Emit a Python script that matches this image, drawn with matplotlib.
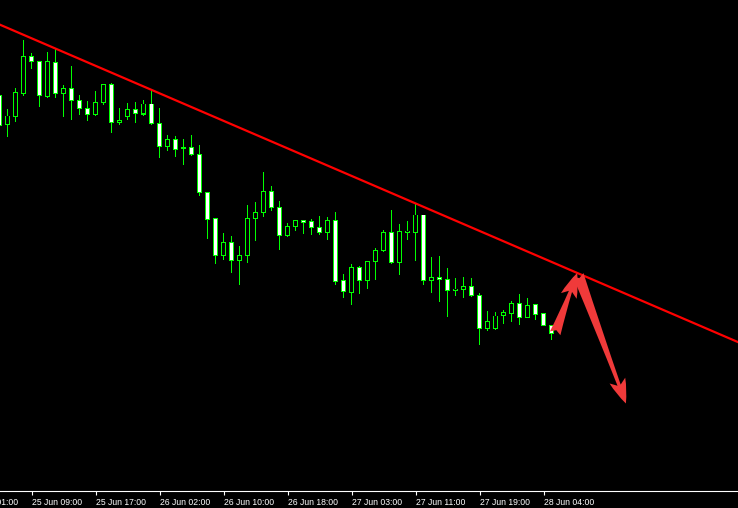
import matplotlib
matplotlib.use("Agg")
import matplotlib.pyplot as plt
from matplotlib.patches import Rectangle
from matplotlib.transforms import blended_transform_factory

# hourly OHLC, bar 0 is the partly hidden candle on the left edge
opens = [1.19050, 1.18753, 1.18833, 1.19067, 1.19437, 1.19387, 1.19033, 1.19377, 1.19067, 1.19117,
         1.18997, 1.18917, 1.18853, 1.18973, 1.19160, 1.18773, 1.18833, 1.18907, 1.18860, 1.18960,
         1.18767, 1.18533, 1.18607, 1.18513, 1.18527, 1.18457, 1.18077, 1.17817, 1.17443, 1.17577,
         1.17397, 1.17447, 1.17817, 1.17877, 1.18087, 1.17927, 1.17643, 1.17733, 1.17797, 1.17787,
         1.17727, 1.17677, 1.17797, 1.17197, 1.17077, 1.17327, 1.17193, 1.17387, 1.17493, 1.17677,
         1.17373, 1.17673, 1.17673, 1.17850, 1.17193, 1.17227, 1.17207, 1.17093, 1.17107, 1.17137,
         1.17047, 1.16713, 1.16713, 1.16847, 1.16867, 1.16967, 1.16827, 1.16957, 1.16867, 1.16747]
highs = [1.19080, 1.18910, 1.19117, 1.19600, 1.19467, 1.19387, 1.19480, 1.19510, 1.19147, 1.19340,
         1.19047, 1.18993, 1.19090, 1.19157, 1.19173, 1.18917, 1.18973, 1.18980, 1.19000, 1.19100,
         1.18920, 1.18650, 1.18640, 1.18607, 1.18650, 1.18550, 1.18077, 1.17817, 1.17670, 1.17640,
         1.17540, 1.17947, 1.17977, 1.18280, 1.18140, 1.17993, 1.17770, 1.17797, 1.17797, 1.17810,
         1.17840, 1.17827, 1.17880, 1.17260, 1.17360, 1.17340, 1.17390, 1.17520, 1.17700, 1.17900,
         1.17760, 1.17787, 1.17957, 1.17850, 1.17433, 1.17440, 1.17317, 1.17217, 1.17227, 1.17217,
         1.17073, 1.16887, 1.16880, 1.16900, 1.16993, 1.17060, 1.17020, 1.16957, 1.16867, 1.16747]
lows = [1.18700, 1.18633, 1.18783, 1.19043, 1.19310, 1.18927, 1.19020, 1.19020, 1.18833, 1.18800,
        1.18853, 1.18793, 1.18843, 1.18947, 1.18673, 1.18750, 1.18800, 1.18773, 1.18843, 1.18750,
        1.18423, 1.18493, 1.18433, 1.18353, 1.18440, 1.18043, 1.17607, 1.17357, 1.17400, 1.17267,
        1.17153, 1.17373, 1.17593, 1.17833, 1.17887, 1.17500, 1.17633, 1.17690, 1.17660, 1.17653,
        1.17653, 1.17600, 1.17153, 1.17020, 1.16950, 1.17060, 1.17110, 1.17200, 1.17480, 1.17360,
        1.17250, 1.17600, 1.17390, 1.17150, 1.17073, 1.16983, 1.16833, 1.17040, 1.17023, 1.17033,
        1.16550, 1.16693, 1.16700, 1.16760, 1.16783, 1.16750, 1.16817, 1.16800, 1.16743, 1.16600]
closes = [1.18750, 1.18840, 1.19077, 1.19437, 1.19383, 1.19047, 1.19387, 1.19067, 1.19117, 1.18993,
          1.18913, 1.18853, 1.18977, 1.19157, 1.18773, 1.18793, 1.18907, 1.18867, 1.18960, 1.18767,
          1.18533, 1.18607, 1.18507, 1.18527, 1.18453, 1.18073, 1.17807, 1.17447, 1.17577, 1.17397,
          1.17447, 1.17817, 1.17877, 1.18087, 1.17927, 1.17643, 1.17737, 1.17797, 1.17773, 1.17723,
          1.17677, 1.17797, 1.17183, 1.17083, 1.17327, 1.17193, 1.17390, 1.17497, 1.17677, 1.17373,
          1.17687, 1.17690, 1.17850, 1.17200, 1.17227, 1.17207, 1.17093, 1.17110, 1.17137, 1.17043,
          1.16713, 1.16787, 1.16840, 1.16877, 1.16967, 1.16827, 1.16947, 1.16857, 1.16743, 1.16667]

time_ticks = [-4, 4, 12, 20, 28, 36, 44, 52, 60, 68]
time_labels = ["25 Jun 01:00", "25 Jun 09:00", "25 Jun 17:00", "26 Jun 02:00", "26 Jun 10:00",
               "26 Jun 18:00", "27 Jun 03:00", "27 Jun 11:00", "27 Jun 19:00", "28 Jun 04:00"]

# resistance line through two anchors (bar, price)
trend_bars = [0, 52]
trend_prices = [1.19755, 1.17966]

# drawn arrows: (bar, price) tail -> tip
arrow_up = [(69.46, 1.16667), (72.21, 1.17270)]
arrow_down = [(72.34, 1.17250), (78.30, 1.15965)]

GREEN = "#00ff00"
ARROW_RED = "#f03a3a"
PX_X = 1 / 8        # one pixel in bar units
PX_Y = 0.0001       # one pixel in price units

fig = plt.figure(figsize=(7.38, 5.08), dpi=100, facecolor="black")
ax = fig.add_axes([0, 17 / 508, 1, 491 / 508])
ax.set_facecolor("black")

for i in range(len(opens)):
    o, h, l, c = opens[i], highs[i], lows[i], closes[i]
    top, bot = max(o, c), min(o, c)
    # wick as a 1px column so it lines up with the body
    ax.add_patch(Rectangle((i - 0.5 * PX_X, l), PX_X, h - l,
                           facecolor=GREEN, lw=0, zorder=2, antialiased=False))
    # green frame, then the body inside it
    ax.add_patch(Rectangle((i - 2.5 * PX_X, bot - 0.5 * PX_Y), 5 * PX_X, top - bot + PX_Y,
                           facecolor=GREEN, lw=0, zorder=3, antialiased=False))
    if top - bot > PX_Y:
        fill = "white" if c < o else "black"
        ax.add_patch(Rectangle((i - 1.5 * PX_X, bot + 0.5 * PX_Y), 3 * PX_X, top - bot - PX_Y,
                               facecolor=fill, lw=0, zorder=3.5, antialiased=False))

ax.axline((trend_bars[0], trend_prices[0]), (trend_bars[1], trend_prices[1]),
          color="#ff0000", lw=1.6, zorder=4)

for tail, tip in [arrow_up, arrow_down]:
    ax.annotate("", xy=tip, xytext=tail,
                arrowprops=dict(arrowstyle="fancy,head_length=1.1,head_width=0.75,tail_width=0.5",
                                fc=ARROW_RED, ec=ARROW_RED, lw=0,
                                shrinkA=0, shrinkB=0, mutation_scale=16),
                zorder=5)

ax.set_xlim(0.0625, 0.0625 + 738 / 8)
ax.set_ylim(1.2 - 0.0491, 1.2)

for side in ["left", "right", "top"]:
    ax.spines[side].set_visible(False)
ax.spines["bottom"].set_color("white")
ax.spines["bottom"].set_linewidth(0.8)
ax.set_yticks([])
ax.set_xticks(time_ticks[1:])
ax.set_xticklabels([])
ax.tick_params(axis="x", direction="out", length=3, width=0.8, color="white")

trans = blended_transform_factory(ax.transData, ax.transAxes)
for t, lab in zip(time_ticks, time_labels):
    ax.text(t + 0.1, -0.0135, lab, transform=trans, ha="left", va="top",
            color="white", fontsize=6.2, family="Liberation Sans", clip_on=False)

fig.savefig("out.png", dpi=100, facecolor="black")
